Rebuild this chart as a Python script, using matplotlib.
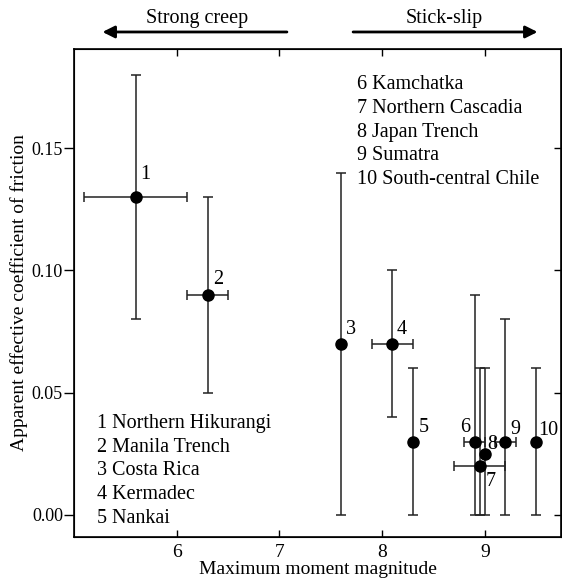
import numpy as np
import matplotlib
matplotlib.use("Agg")
import matplotlib.pyplot as plt

plt.rcParams['font.family'] = ['Liberation Serif', 'DejaVu Serif']

# subduction zones, numbered as in the figure
zone_ids = ["1", "2", "3", "4", "5", "6", "7", "8", "9", "10"]
zone_names = ["Northern Hikurangi", "Manila Trench", "Costa Rica", "Kermadec", "Nankai",
              "Kamchatka", "Northern Cascadia", "Japan Trench", "Sumatra", "South-central Chile"]
mw_max = [5.6, 6.3, 7.6, 8.1, 8.3, 8.9, 8.95, 9.0, 9.2, 9.5]
mw_err = [0.5, 0.2, 0.0, 0.2, 0.0, 0.1, 0.25, 0.0, 0.1, 0.0]
mu_app = [0.13, 0.09, 0.07, 0.07, 0.03, 0.03, 0.02, 0.025, 0.03, 0.03]
mu_low = [0.08, 0.05, 0.0, 0.04, 0.0, 0.0, 0.0, 0.0, 0.0, 0.0]
mu_high = [0.18, 0.13, 0.14, 0.10, 0.06, 0.09, 0.06, 0.06, 0.08, 0.06]

x = np.array(mw_max)
y = np.array(mu_app)
xe = np.array(mw_err)
yerr = np.vstack([y - np.array(mu_low), np.array(mu_high) - y])

fig = plt.figure(figsize=(5.62, 5.84), dpi=100)
ax = fig.add_axes([0.1317, 0.0805, 0.8663, 0.8355])

ecol = '#222222'
ax.errorbar(x, y, yerr=yerr, fmt='none', ecolor=ecol, elinewidth=1.1, capsize=3.5, capthick=1.1)
has_x = xe > 0
ax.errorbar(x[has_x], y[has_x], xerr=xe[has_x], fmt='none', ecolor=ecol, elinewidth=1.1,
            capsize=3.5, capthick=1.1)
ax.plot(x, y, 'o', color='black', markersize=8, zorder=5)

# number labels next to each point (offsets in points)
label_offsets = {"1": (7, 16), "2": (8, 11), "3": (7, 10), "4": (7, 10), "5": (8, 10),
                 "6": (-7, 10), "7": (8, -11), "8": (5, 7), "9": (7, 9), "10": (9, 8)}
for zid, xi, yi in zip(zone_ids, x, y):
    ax.annotate(zid, (xi, yi), xytext=label_offsets[zid], textcoords='offset points',
                ha='center', va='center', fontsize=14.5)

left_block = "\n".join(f"{i} {n}" for i, n in zip(zone_ids[:5], zone_names[:5]))
right_block = "\n".join(f"{i} {n}" for i, n in zip(zone_ids[5:], zone_names[5:]))
ax.text(0.047, 0.252, left_block, transform=ax.transAxes, fontsize=14.5, va='top',
        ha='left', linespacing=1.33)
ax.text(0.582, 0.946, right_block, transform=ax.transAxes, fontsize=14.5, va='top',
        ha='left', linespacing=1.33)

ax.set_xlim(5.0, 9.74)
ax.set_ylim(-0.009, 0.1905)
ax.set_xticks([6, 7, 8, 9])
ax.set_yticks([0.0, 0.05, 0.10, 0.15])
ax.set_yticklabels([f"{v:.2f}" for v in [0.0, 0.05, 0.10, 0.15]])
ax.tick_params(axis='x', direction='in', top=True, length=5, width=1, labelsize=14, pad=5)
ax.tick_params(axis='y', direction='out', length=7, width=1, labelsize=13, pad=1)
for s in ax.spines.values():
    s.set_linewidth(1.2)

# inward ticks on the right spine
ax_r = ax.twinx()
ax_r.set_ylim(ax.get_ylim())
ax_r.set_yticks([0.0, 0.05, 0.10, 0.15])
ax_r.tick_params(axis='y', direction='in', length=5, width=1, labelright=False)

ax.set_xlabel("Maximum moment magnitude", fontsize=14, labelpad=0)
ax.set_ylabel("Apparent effective coefficient of friction", fontsize=14)
ax.yaxis.set_label_coords(-0.094, 0.5)

# regime arrows above the plot
trans = ax.get_xaxis_transform()
ax.annotate('', xy=(5.25, 1.035), xytext=(7.1, 1.035), xycoords=trans, textcoords=trans,
            arrowprops=dict(arrowstyle='-|>', color='black', lw=2, mutation_scale=18),
            annotation_clip=False)
ax.annotate('', xy=(9.54, 1.035), xytext=(7.69, 1.035), xycoords=trans, textcoords=trans,
            arrowprops=dict(arrowstyle='-|>', color='black', lw=2, mutation_scale=18),
            annotation_clip=False)
ax.text(6.2, 1.063, "Strong creep", transform=trans, ha='center', va='center', fontsize=14.5)
ax.text(8.6, 1.063, "Stick-slip", transform=trans, ha='center', va='center', fontsize=14.5)

fig.savefig("out.png", dpi=100)
